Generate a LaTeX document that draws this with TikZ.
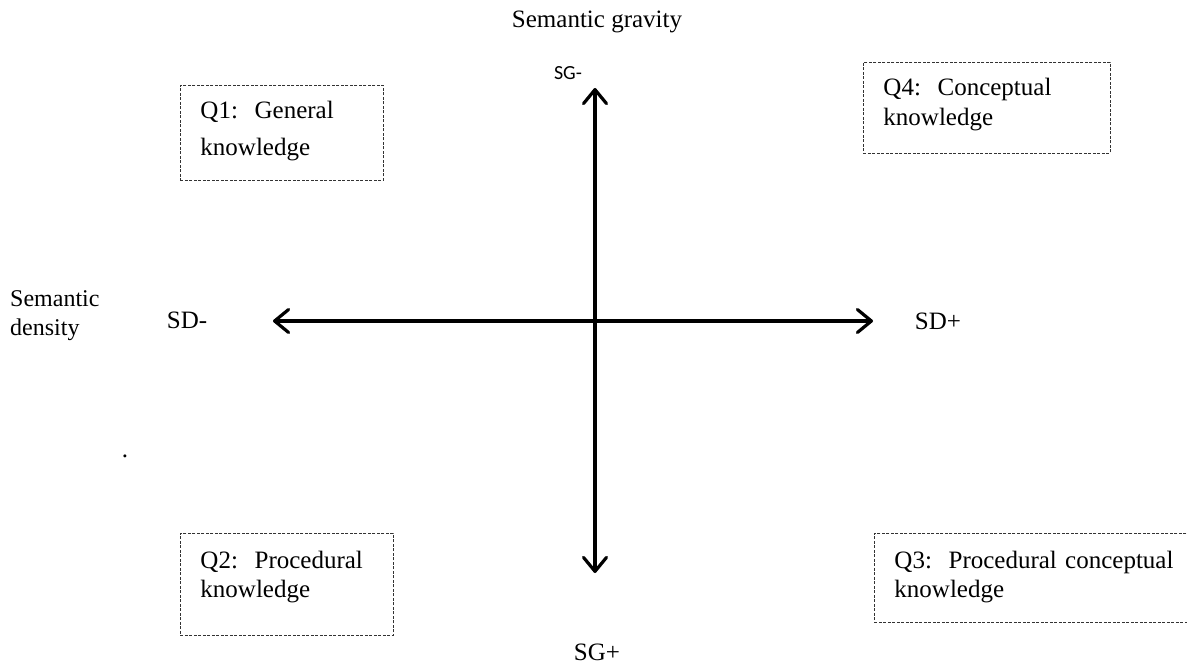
\documentclass[tikz,border=0pt]{standalone}
\usepackage{fontspec}
\setmainfont{Liberation Serif}
\newfontfamily\sgfont{Carlito}
\usetikzlibrary{arrows.meta}
\tikzset{
  x=1bp, y=-1bp,
  lbl/.style={font=\fontsize{25bp}{30bp}\selectfont, inner sep=0pt},
  sglbl/.style={font=\sgfont\fontsize{20bp}{24bp}\selectfont, inner sep=0pt},
  qbox/.style={draw=black!80, line width=0.9bp, dash pattern=on 3bp off 1.5bp,
    anchor=north west, align=left, inner xsep=20bp, inner ysep=0pt},
  barb/.tip={Straight Barb[length=14bp,width=23bp,line cap=round,line join=round]},
  axis/.style={line width=3.2bp, barb-barb}
}
\begin{document}
\begin{tikzpicture}
\useasboundingbox (0,0) rectangle (1187,668);
% title labels
\node[lbl] (sgtitle) at (597,22) {Semantic gravity};
\node[lbl, align=left, anchor=west, font=\fontsize{24bp}{29bp}\selectfont] (sdtitle) at (10,316) {Semantic\\density};
\node[sglbl] (sgm) at (568,73) {SG-};
\node[lbl] (sgp) at (597,652) {SG+};
\node[lbl] (sdm) at (187,320) {SD-};
\node[lbl] (sdp) at (938,321) {SD+};
\node[lbl] (dot) at (125,456) {.};
% quadrant boxes
\node[qbox, text width=163bp, text height=33.5bp, text depth=61.5bp,
  font=\fontsize{25bp}{37bp}\selectfont] (q1) at (180,85) {Q1:\ \ General\\knowledge};
\node[qbox, text width=207bp, text height=33.5bp, text depth=57bp,
  font=\fontsize{25bp}{30bp}\selectfont] (q4) at (863,62) {Q4:\ \ Conceptual\\knowledge};
\node[qbox, text width=173bp, text height=35.5bp, text depth=66.5bp,
  font=\fontsize{25bp}{29bp}\selectfont] (q2) at (180,533) {Q2:\ \ Procedural\\knowledge};
\node[qbox, text width=290bp, text height=35.5bp, text depth=53bp,
  font=\fontsize{25bp}{29bp}\selectfont] (q3) at (874,533) {Q3:\ \ Procedural conceptual\\knowledge};
% axes
\coordinate (vt) at (595,88);
\coordinate (vb) at (595,573);
\coordinate (hl) at (273,321);
\coordinate (hr) at (873,321);
\draw[axis] (vb) -- (vt);
\draw[axis] (hl) -- (hr);
\end{tikzpicture}
\end{document}
